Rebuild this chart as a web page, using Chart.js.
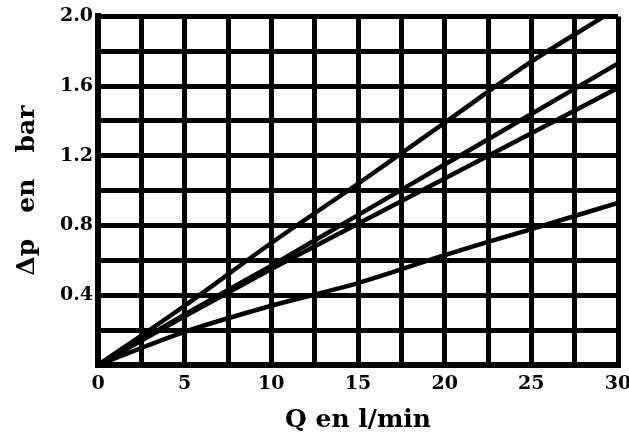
<!DOCTYPE html>
<html lang="fr">
<head>
  <meta charset="utf-8" />
  <title>Δp en bar</title>
  <script src="https://cdn.jsdelivr.net/npm/chart.js@4/dist/chart.umd.min.js"></script>
  <style>
    html, body { margin: 0; padding: 0; background: #fff; }
    #wrap { width: 629px; height: 445px; }
  </style>
</head>
<body>
  <div id="wrap">
    <canvas id="perteCharge" width="629" height="445"></canvas>
  </div>
  <script>
    // débit Q (l/min) et perte de charge Δp (bar) relevés pour chaque courbe
    const qA = [0, 5, 10, 15, 20, 25, 29.2];
    const dpA = [0, 0.34, 0.70, 1.04, 1.39, 1.74, 2.0];

    const qB = [0, 5, 10, 15, 20, 25, 30];
    const dpB = [0, 0.29, 0.57, 0.86, 1.15, 1.44, 1.73];

    const qC = [0, 5, 10, 15, 20, 25, 30];
    const dpC = [0, 0.28, 0.55, 0.81, 1.07, 1.33, 1.59];

    const qD = [0, 5, 10, 15, 20, 25, 30];
    const dpD = [0, 0.19, 0.34, 0.47, 0.63, 0.78, 0.93];

    const xTickLabels = ['0', '5', '10', '15', '20', '25', '30'];
    const yTickLabels = ['0.4', '0.8', '1.2', '1.6', '2.0'];

    const serif = 'DejaVu Serif';

    function points(qs, dps) {
      return qs.map((q, i) => ({ x: q, y: dps[i] }));
    }

    function courbe(qs, dps) {
      return {
        data: points(qs, dps),
        borderColor: '#000',
        borderWidth: 4.5,
        pointRadius: 0,
        showLine: true,
        fill: false,
        cubicInterpolationMode: 'monotone'
      };
    }

    const ctx = document.getElementById('perteCharge').getContext('2d');
    const perteCharge = new Chart(ctx, {
      type: 'scatter',
      data: {
        datasets: [
          courbe(qA, dpA),
          courbe(qB, dpB),
          courbe(qC, dpC),
          courbe(qD, dpD)
        ]
      },
      options: {
        responsive: false,
        animation: false,
        layout: {
          padding: { top: 16, right: 0, left: 0, bottom: 0 }
        },
        plugins: {
          legend: { display: false },
          tooltip: { enabled: false }
        },
        scales: {
          x: {
            type: 'linear',
            min: 0,
            max: 30,
            afterFit: function (scale) {
              scale.height = 80;
              // la zone de tracé s'arrête à 11 px du bord droit
              scale.paddingLeft = 0;
              scale.paddingRight = 11;
            },
            ticks: {
              stepSize: 2.5,
              autoSkip: false,
              maxRotation: 0,
              padding: 8,
              color: '#000',
              font: { family: serif, size: 19, weight: 'bold' },
              callback: function (value) {
                const s = String(value);
                return xTickLabels.includes(s) ? s : '';
              }
            },
            grid: { color: '#000', lineWidth: 5, drawTicks: false },
            border: { color: '#000', width: 6 },
            title: {
              display: true,
              text: 'Q en l/min',
              color: '#000',
              font: { family: serif, size: 25, weight: 'bold' },
              padding: { top: 0, bottom: 10 }
            }
          },
          y: {
            min: 0,
            max: 2.0,
            afterFit: function (scale) { scale.width = 98; },
            ticks: {
              stepSize: 0.2,
              autoSkip: false,
              padding: 5,
              color: '#000',
              font: { family: serif, size: 19, weight: 'bold' },
              callback: function (value) {
                const s = Number(value).toFixed(1);
                return yTickLabels.includes(s) ? s : '';
              }
            },
            grid: { color: '#000', lineWidth: 5, drawTicks: false },
            border: { color: '#000', width: 6 },
            title: {
              display: true,
              text: 'Δp   en   bar',
              color: '#000',
              font: { family: serif, size: 25, weight: 'bold' },
              padding: { top: 12, bottom: 0 }
            }
          }
        }
      }
    });
  </script>
</body>
</html>
